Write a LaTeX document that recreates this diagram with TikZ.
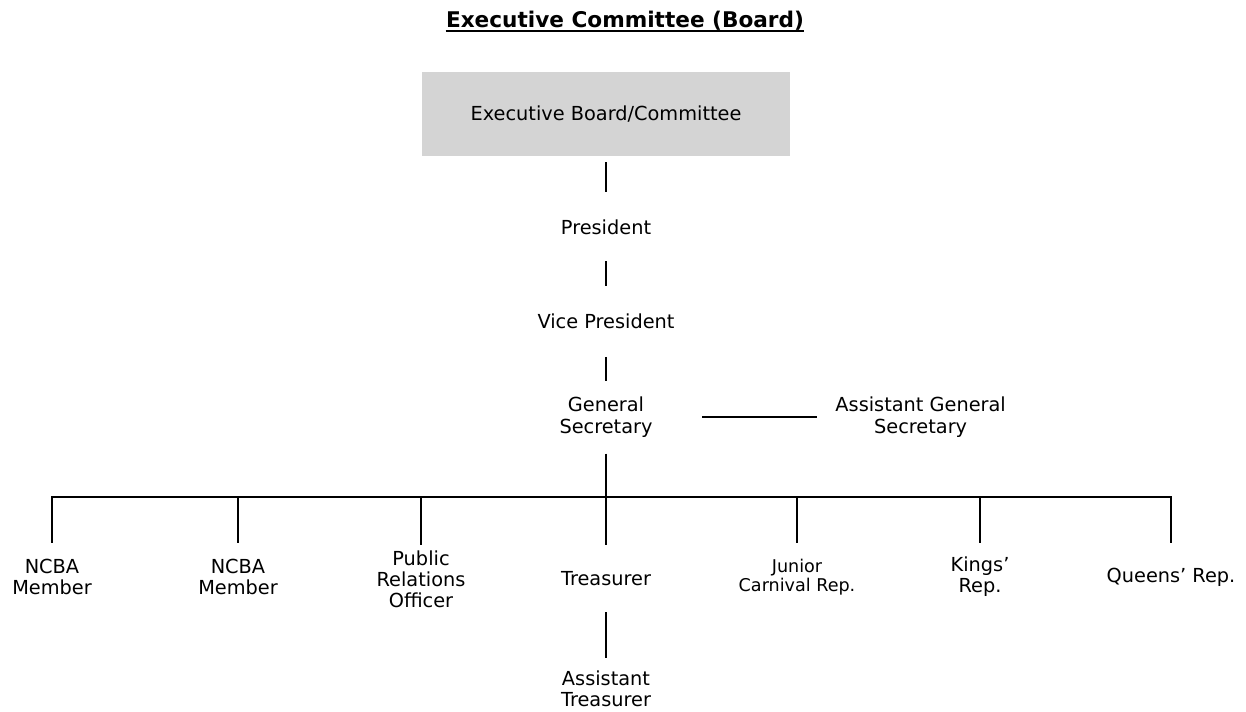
\documentclass[tikz,border=0pt]{standalone}
\usepackage{fontspec}
\setmainfont{DejaVu Sans}
\usetikzlibrary{positioning}
\tikzstyle{post}=[align=center, inner sep=0pt, minimum height=1.34cm, font=\fontsize{11}{12}\selectfont]
\tikzstyle{link}=[line width=1.1pt]

\begin{document}
\begin{tikzpicture}[x=0.02cm, y=-0.02cm]
  \useasboundingbox (0,0) rectangle (1246,712);
  \node[anchor=base, inner sep=0pt, font=\bfseries\fontsize{12.3}{14}\selectfont] (title) at (625,28) {Executive Committee (Board)};
  \draw[line width=1pt] ([yshift=-1.6pt]title.base west) -- ([yshift=-1.6pt]title.base east);

  \node[fill=black!17, minimum width=7.38cm, minimum height=1.7cm, outer sep=0.12cm, font=\fontsize{11}{12}\selectfont] (board) at (606,114) {Executive Board/Committee};
  \node[post, minimum height=1.36cm] (pres) [below=0.6cm of board] {President};
  \node[post, minimum height=1.4cm] (vp) [below=0.5cm of pres] {Vice President};
  \node[post, minimum height=1.44cm, minimum width=3.84cm] (gs) [below=0.48cm of vp] {General\\Secretary};
  \node[post, minimum width=4.12cm] (ags) [right=2.3cm of gs] {Assistant General\\Secretary};
  \node[post] (treas) [below=1.82cm of gs] {Treasurer};
  \node[post, minimum height=1.2cm] (atreas) [below=0.92cm of treas] {Assistant\\Treasurer};

  \node[post] (ncbaA) at (52,577) {NCBA\\Member};
  \node[post] (ncbaB) at (238,577) {NCBA\\Member};
  \node[post] (pro) at (421,579) {Public\\Relations\\Officer};
  \node[post, font=\fontsize{10}{11}\selectfont] (junior) at (797,577) {Junior\\Carnival Rep.};
  \node[post] (kings) at (980,577) {Kings'\\Rep.};
  \node[post] (queens) at (1171,577) {Queens' Rep.};
  \coordinate (bus) at (606,497);

  \draw[link] (board.south) -- (pres.north);
  \draw[link] (pres.south) -- (vp.north);
  \draw[link] (vp.south) -- (gs.north);
  \draw[link] (gs.east) -- (ags.west);
  \draw[link] (gs.south) -- (bus);
  \draw[link, line cap=rect] (ncbaA.north |- bus) -- (queens.north |- bus);
  \foreach \n in {ncbaA, ncbaB, pro, treas, junior, kings, queens}
    \draw[link] (\n.north |- bus) -- (\n.north);
  \draw[link] (treas.south) -- (atreas.north);
\end{tikzpicture}
\end{document}
